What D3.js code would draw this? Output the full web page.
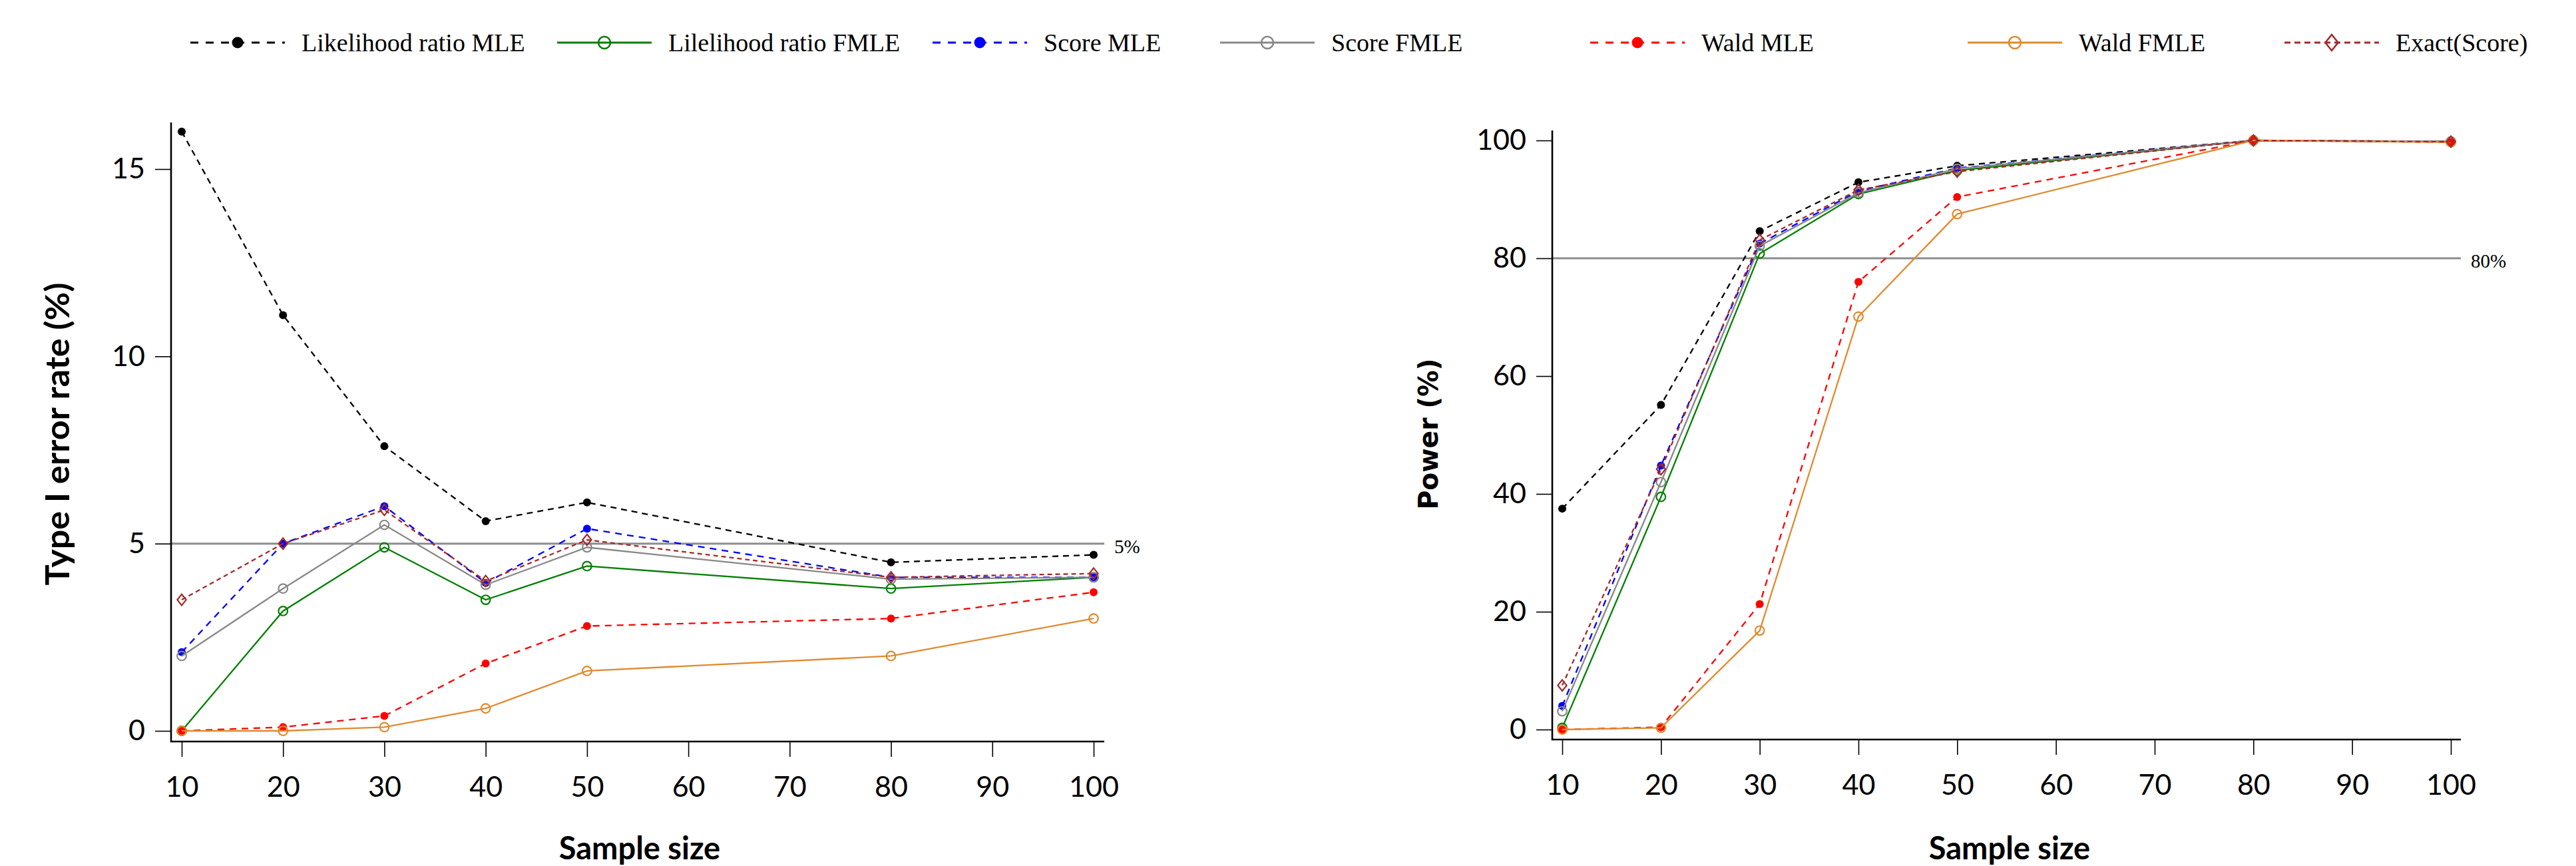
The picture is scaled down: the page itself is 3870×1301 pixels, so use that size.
<!DOCTYPE html>
<html>
<head>
<meta charset="utf-8">
<script src="https://cdn.jsdelivr.net/npm/d3@7"></script>
<style>
  body { margin: 0; background: #fff; }
  svg { display: block; }
</style>
</head>
<body>
<div class="chart"></div>
<script>
const sampleSizes = [10, 20, 30, 40, 50, 80, 100]
const xTickValues = [10, 20, 30, 40, 50, 60, 70, 80, 90, 100]
const errTicks = [0, 5, 10, 15]
const powTicks = [0, 20, 40, 60, 80, 100]

const methods = ["Likelihood ratio MLE", "Lilelihood ratio FMLE", "Score MLE", "Score FMLE",
    "Wald MLE", "Wald FMLE", "Exact(Score)"]

// Type I error rate (%)
const errLrMle = [16.0, 11.1, 7.6, 5.6, 6.1, 4.5, 4.7]
const errLrFmle = [0.0, 3.2, 4.9, 3.5, 4.4, 3.8, 4.1]
const errScoreMle = [2.1, 5.0, 6.0, 3.95, 5.4, 4.1, 4.1]
const errScoreFmle = [2.0, 3.8, 5.5, 3.9, 4.9, 4.05, 4.1]
const errWaldMle = [0.0, 0.1, 0.4, 1.8, 2.8, 3.0, 3.7]
const errWaldFmle = [0.0, 0.0, 0.1, 0.6, 1.6, 2.0, 3.0]
const errExact = [3.5, 5.0, 5.9, 4.0, 5.1, 4.1, 4.2]

// Power (%)
const powLrMle = [37.5, 55.1, 84.6, 92.9, 95.7, 100, 99.8]
const powLrFmle = [0.3, 39.5, 80.8, 90.9, 94.9, 100, 99.8]
const powScoreMle = [4.0, 44.8, 82.5, 91.4, 95.3, 100, 99.8]
const powScoreFmle = [3.1, 42.0, 82.1, 91.1, 95.2, 100, 99.8]
const powWaldMle = [0.0, 0.4, 21.3, 76.0, 90.4, 100, 99.7]
const powWaldFmle = [0.0, 0.3, 16.8, 70.1, 87.5, 100, 99.7]
const powExact = [7.5, 44.2, 83.1, 91.6, 94.7, 100, 99.8]

const errSeries = [errLrMle, errLrFmle, errScoreMle, errScoreFmle, errWaldMle, errWaldFmle, errExact]
const powSeries = [powLrMle, powLrFmle, powScoreMle, powScoreFmle, powWaldMle, powWaldFmle, powExact]

// look of each method, same order as methods
const colors = ["#000000", "#008000", "#0000ff", "#888888", "#ff0000", "#e08a2e", "#a52a2a"]
const dashes = ["9,7", null, "10,8", null, "10,8", null, "7,5"]
const symbols = ["dot", "circle", "dot", "circle", "dot", "circle", "diamond"]
const legendX = [286, 837, 1401, 1833, 2389, 2956, 3432]

const width = 3870
const height = 1301

d3.select(".chart").select("svg").remove()
const svg = d3.select(".chart").append("svg")
    .attr("width", width)
    .attr("height", height)

function drawMarker(g, kind, x, y, color, big) {
    const r = big ? 8.5 : 6
    if (kind === "dot") {
        g.append("circle").attr("cx", x).attr("cy", y).attr("r", r)
            .attr("fill", color)
    } else if (kind === "circle") {
        g.append("circle").attr("cx", x).attr("cy", y).attr("r", big ? 9 : 6.8)
            .attr("fill", "none").attr("stroke", color).attr("stroke-width", big ? 2.6 : 2.2)
    } else {
        const d = big ? 12 : 8.3
        g.append("path")
            .attr("d", `M${x},${y - d}L${x + d * 0.8},${y}L${x},${y + d}L${x - d * 0.8},${y}Z`)
            .attr("fill", "none").attr("stroke", color).attr("stroke-width", big ? 2.6 : 2.2)
    }
}

function panel(p) {
    const g = svg.append("g")
    const x = d3.scaleLinear().domain([10, 100]).range(p.xRange)
    const y = d3.scaleLinear().domain(p.yDomain).range(p.yRange)

    // reference line
    g.append("line")
        .attr("x1", p.box.left).attr("x2", p.box.right)
        .attr("y1", y(p.refValue)).attr("y2", y(p.refValue))
        .attr("stroke", "#8c8c8c").attr("stroke-width", 3)
    g.append("text")
        .attr("x", p.box.right + 15).attr("y", y(p.refValue) + 14)
        .style("font-family", "'Liberation Serif', 'Times New Roman', serif")
        .style("font-size", "29px")
        .text(p.refLabel)

    // axes
    const yAxis = g.append("g")
        .attr("transform", "translate(" + p.box.left + ",0)")
        .call(d3.axisLeft(y).tickValues(p.yTicks).tickSize(24).tickPadding(15))
    const xAxis = g.append("g")
        .attr("transform", "translate(0," + p.box.bottom + ")")
        .call(d3.axisBottom(x).tickValues(xTickValues).tickSize(23).tickPadding(29))
    for (const a of [xAxis, yAxis]) {
        a.select(".domain").remove()
        a.selectAll(".tick line").attr("stroke", "#000").attr("stroke-width", 1.6)
        a.selectAll(".tick text")
            .style("font-family", "Lato, 'Open Sans', sans-serif")
            .style("font-size", "43px")
            .attr("fill", "#000")
    }
    g.append("path")
        .attr("d", `M${p.box.left},${p.box.top}V${p.box.bottom}H${p.box.right}`)
        .attr("fill", "none").attr("stroke", "#000").attr("stroke-width", 2.6)

    // titles
    g.append("text")
        .attr("x", p.xTitleX).attr("y", 1291)
        .attr("text-anchor", "middle")
        .style("font-family", "Lato, sans-serif").style("font-weight", "bold")
        .style("font-size", "47px")
        .text("Sample size")
    g.append("text")
        .attr("transform", "translate(" + p.yTitle.x + ",652) rotate(-90)")
        .attr("text-anchor", "middle")
        .attr("textLength", p.yTitle.len)
        .attr("lengthAdjust", "spacingAndGlyphs")
        .style("font-family", p.yTitle.font).style("font-weight", "bold")
        .style("font-size", p.yTitle.size)
        .text(p.yTitle.text)

    // series
    const line = d3.line().x((d, i) => x(sampleSizes[i])).y(d => y(d))
    p.series.forEach((vals, k) => {
        const s = g.append("g")
        s.append("path")
            .attr("d", line(vals))
            .attr("fill", "none")
            .attr("stroke", colors[k])
            .attr("stroke-width", 2.3)
            .attr("stroke-dasharray", dashes[k])
        vals.forEach((v, i) => drawMarker(s, symbols[k], x(sampleSizes[i]), y(v), colors[k], false))
    })
}

panel({
    xRange: [273, 1643], yDomain: [0, 15], yRange: [1098, 254],
    box: { left: 257, right: 1659, top: 184, bottom: 1114 },
    yTicks: errTicks, refValue: 5, refLabel: "5%",
    xTitleX: 961,
    yTitle: { x: 104, text: "Type I error rate (%)", font: "Lato, sans-serif", size: "49px", len: 455 },
    series: errSeries
})

panel({
    xRange: [2347, 3682], yDomain: [0, 100], yRange: [1096, 211],
    box: { left: 2332, right: 3697, top: 196, bottom: 1111 },
    yTicks: powTicks, refValue: 80, refLabel: "80%",
    xTitleX: 3019,
    yTitle: { x: 2160, text: "Power (%)", font: "'DejaVu Sans', sans-serif", size: "40px", len: 227 },
    series: powSeries
})

// legend across the top
const legend = svg.append("g")
methods.forEach((name, k) => {
    const x0 = legendX[k]
    legend.append("line")
        .attr("x1", x0).attr("x2", x0 + 142)
        .attr("y1", 64).attr("y2", 64)
        .attr("stroke", colors[k]).attr("stroke-width", 3)
        .attr("stroke-dasharray", dashes[k] ? (k === 6 ? "9,6" : "12,11") : null)
    drawMarker(legend, symbols[k], x0 + 71, 64, colors[k], true)
    legend.append("text")
        .attr("x", x0 + 167).attr("y", 77)
        .style("font-family", "'Liberation Serif', 'Times New Roman', serif")
        .style("font-size", "38px")
        .text(name)
})
</script>
</body>
</html>
